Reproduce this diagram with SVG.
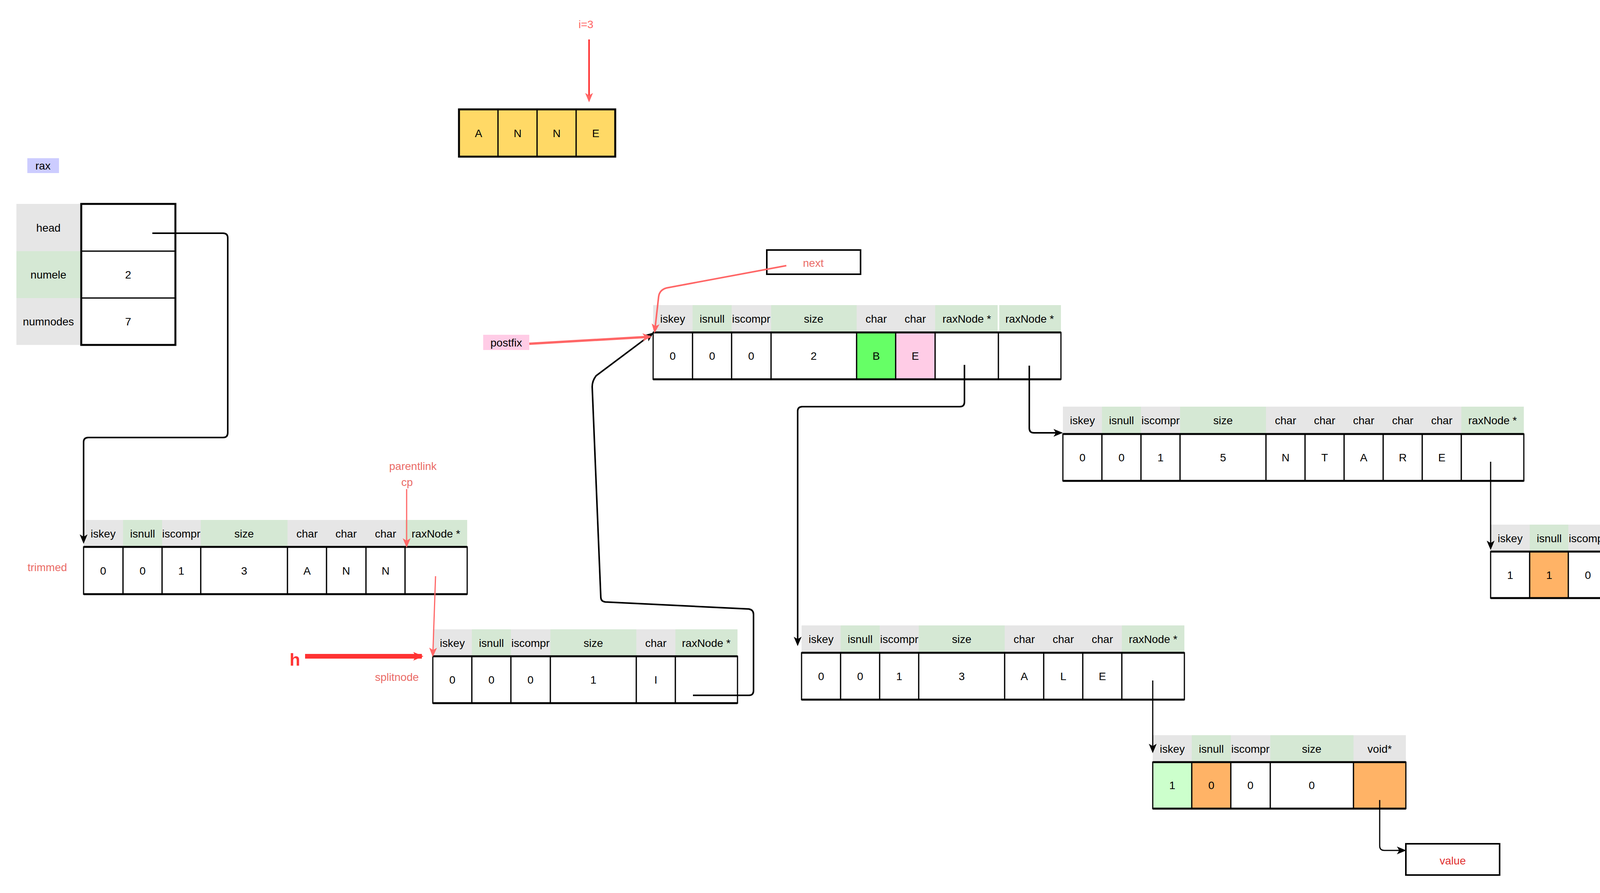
<svg xmlns="http://www.w3.org/2000/svg" width="4378" height="2286" viewBox="0 0 4378 2286">
<style>
text{font-family:"Liberation Sans",Arial,sans-serif;font-size:28px;text-anchor:middle;dominant-baseline:central;fill:#000}
.g{fill:#E6E6E6}.gr{fill:#D5E8D4}
.c{fill:#fff;stroke:#000;stroke-width:3}
.o{fill:none;stroke:#000;stroke-width:5}
.red{fill:#EA6B66}
.ln{fill:none;stroke:#000;stroke-width:4}
.rl{fill:none;stroke:#FF6666;stroke-width:4}
</style>
<defs>
<marker id="ab" markerWidth="10" markerHeight="10" refX="8" refY="5" orient="auto" markerUnits="userSpaceOnUse" viewBox="0 0 10 10"><path d="M0,0 L10,5 L0,10 L3,5z" fill="#000"/></marker>
<marker id="abk" markerWidth="24" markerHeight="24" refX="20" refY="12" orient="auto" markerUnits="userSpaceOnUse" viewBox="0 0 24 24"><path d="M0,2 L24,12 L0,22 L6,12z" fill="#000"/></marker>
<marker id="ar" markerWidth="24" markerHeight="24" refX="20" refY="12" orient="auto" markerUnits="userSpaceOnUse" viewBox="0 0 24 24"><path d="M0,2 L24,12 L0,22 L6,12z" fill="#FF6666"/></marker>
<marker id="ar2" markerWidth="26" markerHeight="26" refX="22" refY="13" orient="auto" markerUnits="userSpaceOnUse" viewBox="0 0 26 26"><path d="M0,2 L26,13 L0,24 L6,13z" fill="#FF3333"/></marker>
</defs>

<g id="anne">
<rect x="1175" y="280" width="400" height="121" fill="#FFD966"/>
<rect class="c" x="1175" y="280" width="100" height="121" fill="#FFD966" style="fill:#FFD966"/>
<rect class="c" x="1275" y="280" width="100" height="121" style="fill:#FFD966"/>
<rect class="c" x="1375" y="280" width="100" height="121" style="fill:#FFD966"/>
<rect class="c" x="1475" y="280" width="100" height="121" style="fill:#FFD966"/>
<rect class="o" x="1175" y="280" width="400" height="121"/>
<text x="1225" y="341">A</text><text x="1325" y="341">N</text><text x="1425" y="341">N</text><text x="1525" y="341">E</text>
</g>
<g id="i3"><text class="red" x="1500" y="62" style="fill:#FF6666">i=3</text></g>

<g id="rax-label"><rect x="70" y="405" width="81" height="38" fill="#CCCCFF"/><text x="110" y="424">rax</text></g>
<g id="rax">
<rect class="g" x="42" y="522" width="166" height="121"/><rect class="gr" x="42" y="643" width="166" height="120"/><rect class="g" x="42" y="763" width="166" height="120"/>
<rect class="c" x="208" y="522" width="241" height="121"/><rect class="c" x="208" y="643" width="241" height="120"/><rect class="c" x="208" y="763" width="241" height="120"/>
<rect class="o" x="208" y="522" width="241" height="361"/>
<text x="124" y="583">head</text><text x="124" y="703">numele</text><text x="124" y="823">numnodes</text>
<text x="328" y="703">2</text><text x="328" y="823">7</text>
</g>

<g id="trimmed">
<rect class="g" x="214" y="1331" width="101" height="69"/><rect class="gr" x="315" y="1331" width="100" height="69"/><rect class="g" x="415" y="1331" width="99" height="69"/><rect class="gr" x="514" y="1331" width="222" height="69"/><rect class="g" x="736" y="1331" width="301" height="69"/><rect class="gr" x="1037" y="1331" width="159" height="69"/>
<text x="264" y="1366">iskey</text><text x="365" y="1366">isnull</text><text x="464" y="1366">iscompr</text><text x="625" y="1366">size</text><text x="786" y="1366">char</text><text x="886" y="1366">char</text><text x="987" y="1366">char</text><text x="1116" y="1366">raxNode *</text>
<rect class="c" x="214" y="1400" width="101" height="121"/><rect class="c" x="315" y="1400" width="100" height="121"/><rect class="c" x="415" y="1400" width="99" height="121"/><rect class="c" x="514" y="1400" width="222" height="121"/><rect class="c" x="736" y="1400" width="100" height="121"/><rect class="c" x="836" y="1400" width="101" height="121"/><rect class="c" x="937" y="1400" width="100" height="121"/><rect class="c" x="1037" y="1400" width="159" height="121"/>
<line class="o" x1="214" y1="1400" x2="1196" y2="1400"/><line class="o" x1="214" y1="1521" x2="1196" y2="1521"/>
<text x="264" y="1461">0</text><text x="365" y="1461">0</text><text x="464" y="1461">1</text><text x="625" y="1461">3</text><text x="786" y="1461">A</text><text x="886" y="1461">N</text><text x="987" y="1461">N</text>
</g>
<g id="labels">
<text class="red" x="121" y="1452">trimmed</text>
<text class="red" x="1057" y="1193">parentlink</text>
<text class="red" x="1042" y="1234">cp</text>
<text x="755" y="1688" style="fill:#FF3333;font-size:44px;font-weight:bold">h</text>
<text class="red" x="1016" y="1733">splitnode</text>
<rect x="1237" y="857" width="118" height="39" fill="#FFCCE6"/><text x="1296" y="877">postfix</text>
</g>

<g id="splitnode">
<rect class="g" x="1108" y="1611" width="100" height="69"/><rect class="gr" x="1208" y="1611" width="100" height="69"/><rect class="g" x="1308" y="1611" width="101" height="69"/><rect class="gr" x="1409" y="1611" width="220" height="69"/><rect class="g" x="1629" y="1611" width="100" height="69"/><rect class="gr" x="1729" y="1611" width="159" height="69"/>
<text x="1158" y="1646">iskey</text><text x="1258" y="1646">isnull</text><text x="1358" y="1646">iscompr</text><text x="1519" y="1646">size</text><text x="1679" y="1646">char</text><text x="1808" y="1646">raxNode *</text>
<rect class="c" x="1108" y="1680" width="100" height="120"/><rect class="c" x="1208" y="1680" width="100" height="120"/><rect class="c" x="1308" y="1680" width="101" height="120"/><rect class="c" x="1409" y="1680" width="220" height="120"/><rect class="c" x="1629" y="1680" width="100" height="120"/><rect class="c" x="1729" y="1680" width="159" height="120"/>
<line class="o" x1="1108" y1="1680" x2="1888" y2="1680"/><line class="o" x1="1108" y1="1800" x2="1888" y2="1800"/>
<text x="1158" y="1740">0</text><text x="1258" y="1740">0</text><text x="1358" y="1740">0</text><text x="1519" y="1740">1</text><text x="1679" y="1740">I</text>
</g>

<g id="be">
<rect class="g" x="1672" y="781" width="101" height="70"/><rect class="gr" x="1773" y="781" width="100" height="70"/><rect class="g" x="1873" y="781" width="101" height="70"/><rect class="gr" x="1974" y="781" width="219" height="70"/><rect class="g" x="2193" y="781" width="201" height="70"/><rect class="gr" x="2394" y="781" width="160" height="70"/><rect class="gr" x="2558" y="781" width="158" height="70"/>
<text x="1722" y="816">iskey</text><text x="1823" y="816">isnull</text><text x="1923" y="816">iscompr</text><text x="2083" y="816">size</text><text x="2243" y="816">char</text><text x="2343" y="816">char</text><text x="2475" y="816">raxNode *</text><text x="2636" y="816">raxNode *</text>
<rect class="c" x="1672" y="851" width="101" height="120"/><rect class="c" x="1773" y="851" width="100" height="120"/><rect class="c" x="1873" y="851" width="101" height="120"/><rect class="c" x="1974" y="851" width="219" height="120"/><rect class="c" x="2193" y="851" width="100" height="120" style="fill:#66FF66"/><rect class="c" x="2293" y="851" width="101" height="120" style="fill:#FFCCE6"/><rect class="c" x="2394" y="851" width="162" height="120"/><rect class="c" x="2556" y="851" width="160" height="120"/>
<line class="o" x1="1672" y1="851" x2="2716" y2="851"/><line class="o" x1="1672" y1="971" x2="2716" y2="971"/>
<text x="1722" y="911">0</text><text x="1823" y="911">0</text><text x="1923" y="911">0</text><text x="2083" y="911">2</text><text x="2243" y="911">B</text><text x="2343" y="911">E</text>
</g>

<g id="next"><rect class="o" x="1963" y="640" width="240" height="62" style="stroke-width:4"/><text class="red" x="2082" y="673">next</text></g>

<g id="ntare">
<rect class="g" x="2721" y="1041" width="100" height="70"/><rect class="gr" x="2821" y="1041" width="100" height="70"/><rect class="g" x="2921" y="1041" width="100" height="70"/><rect class="gr" x="3021" y="1041" width="220" height="70"/><rect class="g" x="3241" y="1041" width="500" height="70"/><rect class="gr" x="3741" y="1041" width="160" height="70"/>
<text x="2771" y="1076">iskey</text><text x="2871" y="1076">isnull</text><text x="2971" y="1076">iscompr</text><text x="3131" y="1076">size</text><text x="3291" y="1076">char</text><text x="3391" y="1076">char</text><text x="3491" y="1076">char</text><text x="3591" y="1076">char</text><text x="3691" y="1076">char</text><text x="3821" y="1076">raxNode *</text>
<rect class="c" x="2721" y="1111" width="100" height="120"/><rect class="c" x="2821" y="1111" width="100" height="120"/><rect class="c" x="2921" y="1111" width="100" height="120"/><rect class="c" x="3021" y="1111" width="220" height="120"/><rect class="c" x="3241" y="1111" width="100" height="120"/><rect class="c" x="3341" y="1111" width="100" height="120"/><rect class="c" x="3441" y="1111" width="100" height="120"/><rect class="c" x="3541" y="1111" width="100" height="120"/><rect class="c" x="3641" y="1111" width="100" height="120"/><rect class="c" x="3741" y="1111" width="160" height="120"/>
<line class="o" x1="2721" y1="1111" x2="3901" y2="1111"/><line class="o" x1="2721" y1="1231" x2="3901" y2="1231"/>
<text x="2771" y="1171">0</text><text x="2871" y="1171">0</text><text x="2971" y="1171">1</text><text x="3131" y="1171">5</text><text x="3291" y="1171">N</text><text x="3391" y="1171">T</text><text x="3491" y="1171">A</text><text x="3591" y="1171">R</text><text x="3691" y="1171">E</text>
</g>

<g id="leaf1">
<rect class="g" x="3816" y="1343" width="100" height="69"/><rect class="gr" x="3916" y="1343" width="99" height="69"/><rect class="g" x="4015" y="1343" width="100" height="69"/><rect class="gr" x="4115" y="1343" width="218" height="69"/>
<text x="3866" y="1378">iskey</text><text x="3966" y="1378">isnull</text><text x="4065" y="1378">iscompr</text><text x="4224" y="1378">size</text>
<rect class="c" x="3816" y="1412" width="100" height="119"/><rect class="c" x="3916" y="1412" width="99" height="119" style="fill:#FFB366"/><rect class="c" x="4015" y="1412" width="100" height="119"/><rect class="c" x="4115" y="1412" width="218" height="119"/>
<line class="o" x1="3816" y1="1412" x2="4333" y2="1412"/><line class="o" x1="3816" y1="1531" x2="4333" y2="1531"/>
<text x="3866" y="1472">1</text><text x="3966" y="1472">1</text><text x="4065" y="1472">0</text><text x="4224" y="1472">0</text>
</g>

<g id="ale">
<rect class="g" x="2052" y="1601" width="100" height="70"/><rect class="gr" x="2152" y="1601" width="100" height="70"/><rect class="g" x="2252" y="1601" width="100" height="70"/><rect class="gr" x="2352" y="1601" width="220" height="70"/><rect class="g" x="2572" y="1601" width="300" height="70"/><rect class="gr" x="2872" y="1601" width="160" height="70"/>
<text x="2102" y="1636">iskey</text><text x="2202" y="1636">isnull</text><text x="2302" y="1636">iscompr</text><text x="2462" y="1636">size</text><text x="2622" y="1636">char</text><text x="2722" y="1636">char</text><text x="2822" y="1636">char</text><text x="2952" y="1636">raxNode *</text>
<rect class="c" x="2052" y="1671" width="100" height="120"/><rect class="c" x="2152" y="1671" width="100" height="120"/><rect class="c" x="2252" y="1671" width="100" height="120"/><rect class="c" x="2352" y="1671" width="220" height="120"/><rect class="c" x="2572" y="1671" width="100" height="120"/><rect class="c" x="2672" y="1671" width="100" height="120"/><rect class="c" x="2772" y="1671" width="100" height="120"/><rect class="c" x="2872" y="1671" width="160" height="120"/>
<line class="o" x1="2052" y1="1671" x2="3032" y2="1671"/><line class="o" x1="2052" y1="1791" x2="3032" y2="1791"/>
<text x="2102" y="1731">0</text><text x="2202" y="1731">0</text><text x="2302" y="1731">1</text><text x="2462" y="1731">3</text><text x="2622" y="1731">A</text><text x="2722" y="1731">L</text><text x="2822" y="1731">E</text>
</g>

<g id="leaf2">
<rect class="g" x="2951" y="1882" width="100" height="69"/><rect class="gr" x="3051" y="1882" width="100" height="69"/><rect class="g" x="3151" y="1882" width="101" height="69"/><rect class="gr" x="3252" y="1882" width="213" height="69"/><rect class="g" x="3465" y="1882" width="134" height="69"/>
<text x="3001" y="1917">iskey</text><text x="3101" y="1917">isnull</text><text x="3201" y="1917">iscompr</text><text x="3358" y="1917">size</text><text x="3532" y="1917">void*</text>
<rect class="c" x="2951" y="1951" width="100" height="119" style="fill:#CCFFCC"/><rect class="c" x="3051" y="1951" width="100" height="119" style="fill:#FFB366"/><rect class="c" x="3151" y="1951" width="101" height="119"/><rect class="c" x="3252" y="1951" width="213" height="119"/><rect class="c" x="3465" y="1951" width="134" height="119" style="fill:#FFB366"/>
<line class="o" x1="2951" y1="1951" x2="3599" y2="1951"/><line class="o" x1="2951" y1="2070" x2="3599" y2="2070"/>
<text x="3001" y="2010">1</text><text x="3101" y="2010">0</text><text x="3201" y="2010">0</text><text x="3358" y="2010">0</text>
</g>

<g id="value"><rect class="o" x="3599" y="2160" width="240" height="80" style="stroke-width:4"/><text x="3719" y="2203" style="fill:#E03030">value</text></g>

<g id="connectors">
<path class="ln" d="M390,597 H571 Q583,597 583,609 V1108 Q583,1120 571,1120 H226 Q214,1120 214,1132 V1388" marker-end="url(#abk)"/>
<path class="ln" d="M1774,1780 H1917 Q1929,1780 1929,1768 V1573 Q1929,1561 1917,1559 L1550,1541 Q1538,1540 1538,1528 L1516,990 Q1516,975 1526,962 L1670,854" marker-end="url(#abk)"/>
<path class="ln" d="M2469,934 V1029 Q2469,1041 2457,1041 H2054 Q2042,1041 2042,1053 V1650" marker-end="url(#abk)"/>
<path class="ln" d="M2635,936 V1096 Q2635,1108 2647,1108 H2717" marker-end="url(#abk)"/>
<path class="ln" d="M3816,1182 V1404" style="stroke-width:3" marker-end="url(#abk)"/>
<path class="ln" d="M2951,1742 V1924" style="stroke-width:3" marker-end="url(#abk)"/>
<path class="ln" d="M3532,2048 V2165 Q3532,2177 3544,2177 H3596" style="stroke-width:3" marker-end="url(#abk)"/>
<path class="rl" d="M1508,101 V258" style="stroke:#FF3333" marker-end="url(#ar)"/>
<path class="rl" d="M1041,1252 V1398" style="stroke-width:3" marker-end="url(#ar)"/>
<path class="rl" d="M1115,1475 L1108,1678" style="stroke-width:3" marker-end="url(#ar)"/>
<path class="rl" d="M781,1680 H1080" style="stroke:#FF3333;stroke-width:12" marker-end="url(#ar2)"/>
<path class="rl" d="M1355,880 L1665,862" style="stroke-width:6" marker-end="url(#ar)"/>
<path class="rl" d="M2013,680 L1707,737 Q1688,742 1686,760 L1676,849" marker-end="url(#ar)"/>
</g>
<text x="4268" y="2265" style="font-size:18px;fill:#AAAAAA">CSDN @happytree001</text>
</svg>
